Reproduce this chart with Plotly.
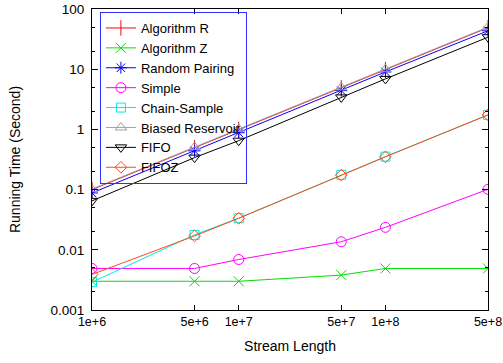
import plotly.graph_objects as go
import numpy as np

stream_length = [1e6, 5e6, 1e7, 5e7, 1e8, 5e8]
x_tick_labels = ["1e+6", "5e+6", "1e+7", "5e+7", "1e+8", "5e+8"]
y_tick_vals = [0.001, 0.01, 0.1, 1, 10, 100]
y_tick_labels = ["0.001", "0.01", "0.1", "1", "10", "100"]

algorithm_r = [0.1, 0.5, 1.0, 4.9, 9.8, 49]
algorithm_z = [0.003, 0.003, 0.003, 0.0038, 0.0049, 0.0049]
random_pairing = [0.088, 0.44, 0.88, 4.4, 9.0, 43.5]
simple = [0.0049, 0.0049, 0.0069, 0.0136, 0.0236, 0.101]
chain_sample = [0.0029, 0.0177, 0.0335, 0.176, 0.353, 1.74]
biased_reservoir = [0.102, 0.51, 1.02, 5.0, 10.0, 50]
fifo = [0.065, 0.34, 0.65, 3.4, 6.9, 34]
fifoz = [0.0039, 0.017, 0.0334, 0.174, 0.35, 1.74]

series = [
    ("Algorithm R", algorithm_r, "#ff0000", "line-ns-open", 11),
    ("Algorithm Z", algorithm_z, "#00e000", "x-thin-open", 10),
    ("Random Pairing", random_pairing, "#0000ff", "asterisk-open", 10),
    ("Simple", simple, "#ff00ff", "circle-open", 10),
    ("Chain-Sample", chain_sample, "#00e8e8", "square-open", 9),
    ("Biased Reservoir", biased_reservoir, "#a0a0a0", "triangle-up-open", 10),
    ("FIFO", fifo, "#000000", "triangle-down-open", 10),
    ("FIFOZ", fifoz, "#ff4a10", "diamond-open", 9),
]

fig = go.Figure()
for name, vals, color, sym, size in series:
    fig.add_trace(go.Scatter(
        x=stream_length, y=vals, name=name, mode="lines+markers",
        line=dict(color=color, width=1),
        marker=dict(symbol=sym, size=size, color=color, line=dict(color=color, width=1)),
    ))

font = "Liberation Sans, Arial, sans-serif"
fig.update_layout(
    width=503, height=363,
    margin=dict(l=92, r=15, t=9, b=53),
    paper_bgcolor="white", plot_bgcolor="white",
    font=dict(family=font, size=13.5, color="black"),
    showlegend=True,
    legend=dict(
        x=0.02, y=0.99, xanchor="left", yanchor="top",
        bgcolor="rgba(0,0,0,0)", bordercolor="#3030ff", borderwidth=1,
        font=dict(family=font, size=13), tracegroupgap=0,
    ),
)
fig.update_xaxes(
    type="log", range=[np.log10(1e6), np.log10(5e8)],
    tickvals=stream_length, ticktext=x_tick_labels,
    tickfont=dict(size=12.5),
    showline=True, linecolor="black", linewidth=1, mirror="ticks",
    ticks="inside", ticklen=5, tickcolor="black", showgrid=False, zeroline=False,
    automargin=False,
    title=dict(text="Stream Length", font=dict(size=14), standoff=13),
)
fig.update_yaxes(
    type="log", range=[-3, 2],
    tickvals=y_tick_vals, ticktext=y_tick_labels,
    showline=True, linecolor="black", linewidth=1, mirror="ticks",
    ticks="inside", ticklen=6, tickcolor="black", showgrid=False, zeroline=False,
    minor=dict(ticks="inside", ticklen=3, tickcolor="black", dtick="D2", showgrid=False),
    automargin=False, ticklabelstandoff=4,
    title=dict(text="Running Time (Second)", font=dict(size=14), standoff=26),
)

fig.write_html("out.html")
